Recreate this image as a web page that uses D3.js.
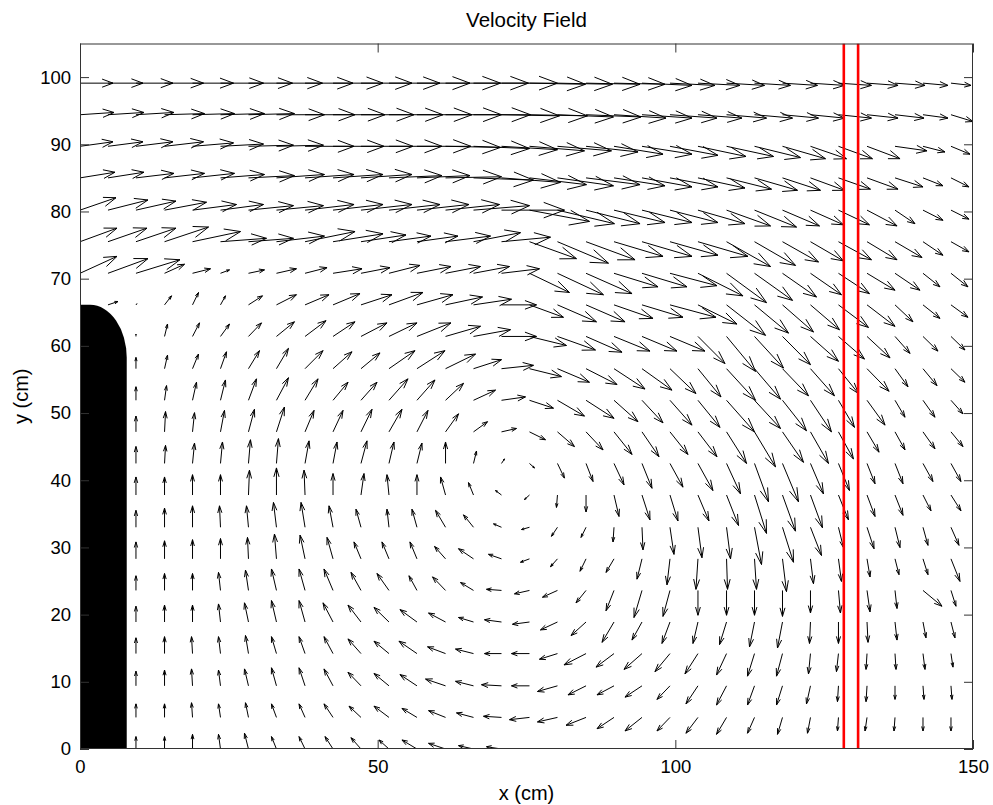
<!DOCTYPE html>
<html>
  <head>
    <meta charset="utf-8" />
    <title>Velocity Field</title>
    <script src="https://cdn.jsdelivr.net/npm/d3@7"></script>
    <style type="text/css">
      body { margin: 0; background: #fff; }
      svg text { font-family: "Liberation Sans", Arial, sans-serif; fill: #000; }
    </style>
  </head>

  <body>
    <svg id="chart" width="993" height="805"></svg>
    <script type="text/javascript">
      // measurement grid (cm)
      var xGrid = [0, 4.7, 9.4, 14.2, 18.9, 23.6, 28.3, 33.0, 37.8, 42.5, 47.2, 51.9, 56.6, 61.4, 66.1, 70.8,
        75.5, 80.2, 85.0, 89.7, 94.4, 99.1, 103.8, 108.6, 113.3, 118.0, 122.7, 127.4, 132.2, 136.9, 141.6, 146.3];
      var yGrid = [0, 4.7, 9.4, 14.2, 18.9, 23.6, 28.3, 33.0, 37.8, 42.5, 47.2, 51.9, 56.6, 61.4, 66.1, 70.8,
        75.5, 80.2, 85.0, 89.7, 94.4, 99.1];

      // velocity components, one row per yGrid value (bottom row first), null = no data
      var U = [
        [null,null,0,0,0,-2,-4,-5,-6,-8,-10,-10,-15,-17,-15,-15,-3,null,null,null,null,null,null,null,null,null,null,null,null,null,null,null],
        [null,null,0,0,-1,-2,-3,-5,-6,-9,-12,-15,-15,-17,-17,-18,-20,-20,-20,-17,-17,-13,-12,-10,-7,-5,-3,-1,-2,-1,0,0],
        [null,null,0,0,-1,-2,-4,-5,-6,-9,-13,-15,-17,-20,-18,-20,-18,-20,-18,-17,-17,-13,-12,-10,-7,-6,-4,-1,-1,0,1,1],
        [null,null,0,0,-1,-2,-3,-5,-6,-9,-13,-15,-18,-18,-18,-17,-18,-18,-22,-18,-18,-15,-13,-10,-7,-6,-2,-2,-1,1,2,2],
        [null,null,0,0,0,-2,-4,-5,-6,-10,-13,-15,-17,-17,-15,-17,-17,-17,-15,-12,-10,-8,-5,-7,-5,-5,-1,0,1,2,3,4],
        [null,null,0,0,0,-2,-3,-5,-6,-9,-10,-12,-8,-13,-13,-15,-15,-15,-10,-8,-8,-7,0,0,0,0,0,2,3,2,19,5],
        [null,null,0,0,0,0,-1,-2,-5,-6,-7,-7,-7,-11,-15,-13,-9,-7,-6,-8,-5,-3,-2,1,2,4,3,3,3,4,5,9],
        [null,null,0,0,0,-1,-2,-3,-4,-4,-5,-2,-5,-10,-10,-8,-8,-6,-5,-1,1,4,4,4,7,11,11,5,7,5,5,8],
        [null,null,0,0,0,0,1,0,-1,0,3,-2,0,-5,-5,-6,-5,-1,0,5,8,8,11,12,12,13,12,10,8,8,8,10],
        [null,null,0,1,2,2,2,2,4,4,6,5,5,0,3,3,5,7,7,10,10,13,15,14,14,16,13,11,8,8,10,10],
        [null,null,0,1,2,4,6,8,9,10,11,13,11,13,14,15,16,17,17,18,17,18,19,20,21,21,18,15,12,10,12,12],
        [null,null,0,2,4,5,8,12,13,15,16,19,18,18,22,24,24,27,28,24,21,22,22,28,26,24,21,16,18,10,12,12],
        [null,null,0,3,6,6,11,12,18,19,19,26,28,30,28,32,32,32,31,31,30,26,23,29,26,26,24,20,22,13,14,14],
        [null,null,0,3,7,9,13,18,21,22,26,28,34,35,37,35,37,38,36,36,35,35,27,29,29,28,28,26,23,15,15,14],
        [null,10,1,7,6,5,14,20,24,27,31,34,36,37,38,35,34,39,39,39,41,46,39,39,34,31,29,30,28,18,17,17],
        [37,40,44,20,18,9,16,20,22,29,29,31,34,35,36,38,40,46,46,44,45,47,45,40,38,34,31,31,28,25,17,17],
        [37,39,40,44,48,46,45,48,50,50,45,42,41,45,47,49,47,51,49,49,50,48,50,44,41,36,33,33,30,27,20,18],
        [36,40,40,42,44,43,45,47,49,50,51,51,52,54,56,63,60,57,54,51,50,48,47,44,42,37,33,31,30,20,20,18],
        [35,36,38,40,42,44,46,48,49,50,51,53,53,56,60,59,57,56,54,51,50,48,47,45,43,38,34,32,31,28,20,18],
        [33,35,37,39,41,43,45,47,49,51,52,53,54,55,56,56,55,54,52,49,50,48,48,47,46,43,36,34,33,32,22,19],
        [34,36,38,40,42,44,46,48,50,52,53,54,55,56,57,58,58,56,55,52,50,47,44,40,38,36,34,33,31,29,25,22],
        [33,35,37,39,41,43,44,46,48,50,51,51,53,55,55,56,56,55,54,51,50,45,42,38,36,35,34,33,31,30,25,20]
      ];
      var V = [
        [null,null,11,11,13,13,14,11,11,11,10,8,8,5,3,2,0,null,null,null,null,null,null,null,null,null,null,null,null,null,null,null],
        [null,null,12,12,13,12,13,12,12,12,10,10,8,6,4,1,-2,-4,-7,-10,-12,-12,-14,-15,-14,-15,-14,-12,-12,-12,-12,-12],
        [null,null,13,14,15,14,15,16,16,15,12,11,10,6,4,1,0,-5,-8,-8,-10,-12,-16,-17,-17,-17,-16,-14,-14,-12,-12,-12],
        [null,null,14,15,15,15,16,15,15,15,13,11,11,6,4,0,0,-5,-10,-12,-14,-16,-18,-19,-20,-20,-18,-16,-14,-14,-14,-12],
        [null,null,14,15,15,16,17,19,19,17,15,13,11,8,4,2,-2,-7,-12,-18,-16,-19,-19,-20,-22,-23,-19,-19,-18,-16,-14,-14],
        [null,null,13,15,15,16,18,19,19,19,16,15,13,12,7,1,-3,-6,-11,-18,-24,-23,-22,-22,-22,-23,-20,-20,-19,-16,-14,-14],
        [null,null,15,16,17,18,19,22,21,19,15,15,15,11,9,4,-3,-7,-11,-12,-18,-23,-27,-27,-27,-29,-22,-20,-16,-14,-14,-20],
        [null,null,15,17,19,19,19,22,22,19,16,16,16,15,11,3,-2,-8,-9,-13,-20,-24,-27,-28,-33,-31,-25,-18,-19,-18,-16,-16],
        [null,null,16,16,18,18,22,24,22,19,19,18,18,16,11,4,-4,-11,-15,-19,-22,-23,-23,-27,-34,-32,-29,-22,-19,-18,-14,-14],
        [null,null,15,16,18,19,21,22,20,19,20,19,18,19,11,4,-4,-13,-16,-19,-22,-21,-24,-27,-34,-34,-27,-24,-18,-18,-16,-16],
        [null,null,14,18,17,19,20,22,19,19,20,20,19,16,9,3,-7,-13,-16,-20,-22,-20,-22,-28,-31,-27,-28,-24,-18,-16,-15,-13],
        [null,null,12,13,16,18,19,20,19,16,16,19,18,15,9,3,-7,-14,-16,-19,-20,-22,-24,-28,-25,-27,-28,-24,-22,-15,-15,-12],
        [null,null,10,12,13,15,16,18,16,15,14,16,16,13,8,3,-7,-12,-14,-18,-19,-22,-25,-28,-27,-24,-24,-22,-20,-16,-15,-12],
        [null,null,2,11,12,11,12,13,14,13,12,12,12,9,6,0,-8,-12,-14,-13,-13,-13,-24,-31,-28,-25,-22,-20,-19,-15,-13,-12],
        [null,3,1,8,11,8,8,9,9,10,9,11,9,7,5,0,-11,-15,-15,-12,-11,-11,-17,-27,-25,-24,-22,-20,-19,-15,-12,-11],
        [15,13,12,8,4,3,3,4,5,4,5,7,6,6,6,4,-17,-19,-18,-12,-12,-11,-20,-26,-24,-21,-19,-18,-15,-15,-12,-12],
        [12,12,12,13,9,3,3,5,9,7,6,5,5,5,8,4,-15,-19,-16,-13,-13,-12,-13,-22,-21,-18,-17,-16,-16,-14,-12,-9],
        [11,9,8,7,5,5,4,4,5,5,5,5,5,5,4,0,-10,-12,-12,-11,-11,-11,-12,-14,-15,-14,-13,-13,-14,-12,-9,-8],
        [5,5,4,4,4,3,2,3,3,3,3,2,2,1,-2,-4,-6,-7,-6,-7,-8,-8,-9,-10,-11,-11,-11,-10,-10,-8,-7,-8],
        [4,4,4,4,3,2,1,1,0,0,0,0,0,-1,-2,-3,-4,-4,-5,-7,-7,-8,-9,-9,-10,-11,-11,-11,-11,-4,-5,-7],
        [2,2,2,1,1,1,1,0,0,0,0,0,0,0,0,-1,-1,-2,-2,-3,-3,-3,-3,-3,-3,-3,-3,-3,-3,-3,-3,-6],
        [0,0,0,0,0,0,0,0,0,0,0,0,0,0,0,0,-1,-1,-1,-1,-2,-2,-2,-2,-2,-2,-2,-2,-2,-2,-2,-2]
      ];

      var xTicks = [0, 50, 100, 150];
      var yTicks = [0, 10, 20, 30, 40, 50, 60, 70, 80, 90, 100];
      var probeLines = [128.3, 130.7]; // red measurement sections (cm)

      // obstacle outline (cm)
      var wallWidth = 7.85, wallTop = 66.1, cornerX = 1.7, cornerY = 58.2;

      var qScale = 0.168; // arrow length in cm per velocity unit
      var alpha = 0.33, beta = 0.33; // arrowhead like matlab quiver

      var margin = { left: 80, top: 43.5, right: 20, bottom: 56 };
      var W = 993 - margin.left - margin.right,
        H = 805 - margin.top - margin.bottom;

      var x = d3.scaleLinear().domain([0, 150]).range([0, W]);
      var y = d3.scaleLinear().domain([0, 105]).range([H, 0]);

      var svg = d3.select('#chart');
      svg.append('rect').attr('width', 993).attr('height', 805).attr('fill', '#fff');

      var g = svg.append('g').attr('transform', 'translate(' + margin.left + ',' + margin.top + ')');

      g.append('clipPath').attr('id', 'clip')
        .append('rect').attr('width', W).attr('height', H);

      var plot = g.append('g').attr('clip-path', 'url(#clip)');

      // quiver arrows
      var arrows = [];
      U.forEach(function (row, r) {
        row.forEach(function (u, c) {
          var v = V[r][c];
          if (u == null || v == null) return;
          arrows.push({ x: xGrid[c], y: yGrid[r], u: u * qScale, v: v * qScale });
        });
      });

      function arrowPath(d) {
        var tx = d.x + d.u, ty = d.y + d.v;
        var h1x = tx - alpha * (d.u + beta * d.v), h1y = ty - alpha * (d.v - beta * d.u);
        var h2x = tx - alpha * (d.u - beta * d.v), h2y = ty - alpha * (d.v + beta * d.u);
        return 'M' + x(d.x) + ',' + y(d.y) + 'L' + x(tx) + ',' + y(ty) +
          'M' + x(h1x) + ',' + y(h1y) + 'L' + x(tx) + ',' + y(ty) + 'L' + x(h2x) + ',' + y(h2y);
      }

      plot.selectAll('path.arrow')
        .data(arrows)
        .enter()
        .append('path')
        .attr('class', 'arrow')
        .attr('d', arrowPath)
        .attr('fill', 'none')
        .attr('stroke', '#000')
        .attr('stroke-width', 1);

      // obstacle
      var rx = x(wallWidth) - x(cornerX), ry = y(cornerY) - y(wallTop);
      plot.append('path')
        .attr('d', 'M' + x(0) + ',' + y(0) + 'L' + x(0) + ',' + y(wallTop) + 'L' + x(cornerX) + ',' + y(wallTop) +
          'A' + rx + ',' + ry + ' 0 0 1 ' + x(wallWidth) + ',' + y(cornerY) +
          'L' + x(wallWidth) + ',' + y(0) + 'Z')
        .attr('fill', '#000');

      // red sections
      plot.selectAll('line.probe')
        .data(probeLines)
        .enter()
        .append('line')
        .attr('class', 'probe')
        .attr('x1', function (d) { return x(d); })
        .attr('x2', function (d) { return x(d); })
        .attr('y1', y(0))
        .attr('y2', y(105))
        .attr('stroke', '#f00')
        .attr('stroke-width', 2.6);

      // axes, matlab style ticks inside on all four sides
      var fs = '18.5px';
      var ax = g.append('g').attr('transform', 'translate(0,' + H + ')')
        .call(d3.axisBottom(x).tickValues(xTicks).tickSize(-9).tickSizeOuter(0).tickPadding(11));
      var ay = g.append('g')
        .call(d3.axisLeft(y).tickValues(yTicks).tickSize(-9).tickSizeOuter(0).tickPadding(9));
      g.append('g')
        .call(d3.axisTop(x).tickValues(xTicks).tickSize(-9).tickSizeOuter(0).tickFormat(''));
      g.append('g').attr('transform', 'translate(' + W + ',0)')
        .call(d3.axisRight(y).tickValues(yTicks).tickSize(-9).tickSizeOuter(0).tickFormat(''));

      g.selectAll('.domain').remove();
      g.selectAll('.tick line').attr('stroke', '#333');
      [ax, ay].forEach(function (a) {
        a.attr('font-family', null).attr('font-size', null);
        a.selectAll('text').style('font-size', fs);
      });

      g.append('rect')
        .attr('x', 0.5).attr('y', 0.5)
        .attr('width', W - 1).attr('height', H - 1)
        .attr('fill', 'none')
        .attr('stroke', '#333');

      // titles
      svg.append('text')
        .attr('x', margin.left + W / 2).attr('y', 27)
        .attr('text-anchor', 'middle')
        .style('font-size', '20.5px')
        .text('Velocity Field');

      svg.append('text')
        .attr('x', margin.left + W / 2).attr('y', 800)
        .attr('text-anchor', 'middle')
        .style('font-size', '20px')
        .text('x (cm)');

      svg.append('text')
        .attr('transform', 'translate(28,' + (margin.top + H / 2) + ') rotate(-90)')
        .attr('text-anchor', 'middle')
        .style('font-size', '20px')
        .text('y (cm)');
    </script>
  </body>
</html>
